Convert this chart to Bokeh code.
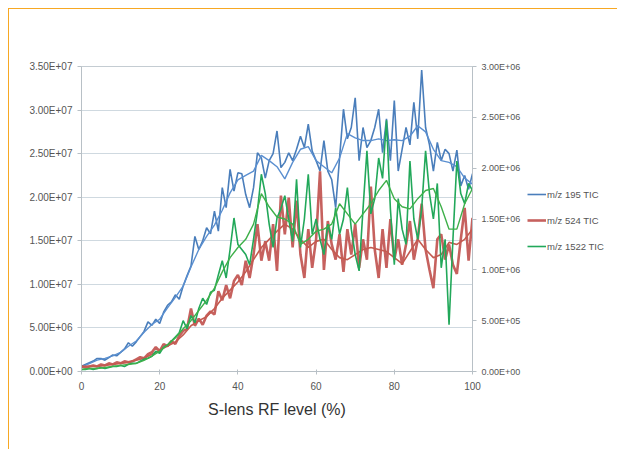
from bokeh.plotting import figure
from bokeh.layouts import row
from bokeh.models import Range1d, LinearAxis, FixedTicker, Legend, LegendItem
from bokeh.embed import file_html
from bokeh.resources import INLINE

# ---------------- data ----------------
rf_level = list(range(0, 101))          # S-lens RF level (%), 1% steps
rf_trend = list(range(0, 101, 2))       # trend line points

# m/z 195 TIC (left axis, units of 1e6)
mz195 = [0.6, 0.8, 1.0, 1.2, 1.5, 1.5, 1.3, 1.6, 1.9, 1.8,
         2.2, 2.6, 3.3, 2.9, 3.4, 4.0, 4.6, 5.7, 5.3, 6.0,
         5.5, 6.8, 7.6, 8.0, 8.8, 8.3, 9.8, 11.0, 12.1, 15.5,
         14.0, 15.0, 16.5, 15.8, 18.4, 16.1, 21.1, 18.8, 23.2, 20.7,
         22.8, 22.7, 20.3, 18.8, 21.1, 25.1, 24.5, 22.2, 24.2, 25.0,
         27.6, 23.4, 24.0, 25.1, 24.2, 25.5, 27.0, 25.7, 28.4, 25.3,
         24.2, 23.0, 26.5, 23.0, 22.0, 18.8, 24.5, 30.1, 26.7, 28.0,
         31.4, 24.2, 28.0, 25.7, 26.5, 28.0, 30.1, 25.1, 29.0, 24.2,
         31.1, 23.0, 25.5, 28.0, 26.0, 30.9, 26.7, 34.6, 28.0, 26.0,
         23.0, 26.3, 24.2, 25.5, 25.0, 23.0, 25.4, 21.3, 22.5, 20.9,
         22.7]
# m/z 524 TIC (right axis, units of 1e6)
mz524 = [0.05, 0.04, 0.05, 0.06, 0.05, 0.07, 0.06, 0.08, 0.07, 0.09,
         0.08, 0.10, 0.09, 0.10, 0.12, 0.14, 0.13, 0.17, 0.19, 0.24,
         0.20, 0.27, 0.25, 0.30, 0.27, 0.35, 0.40, 0.42, 0.62, 0.45,
         0.52, 0.46, 0.55, 0.59, 0.56, 0.79, 0.70, 0.85, 0.72, 0.89,
         0.95, 0.85, 1.09, 0.92, 1.15, 1.45, 1.09, 1.28, 1.09, 1.45,
         0.99, 1.73, 1.35, 1.71, 1.22, 1.68, 1.15, 0.92, 1.40, 1.02,
         1.30, 1.97, 1.00, 1.48, 1.25, 1.10, 1.35, 0.98, 1.40, 1.15,
         1.45, 1.02, 1.30, 1.10, 1.82, 1.20, 0.92, 1.40, 1.02, 1.50,
         1.10, 1.30, 1.05, 1.25, 1.48, 1.10, 1.30, 1.65, 1.20, 1.00,
         0.82, 1.30, 1.35, 1.10, 1.25, 1.05, 0.96, 1.30, 1.61, 1.09,
         1.51]
# m/z 1522 TIC (right axis, units of 1e6)
mz1522 = [0.02, 0.02, 0.03, 0.02, 0.03, 0.04, 0.03, 0.04, 0.05, 0.05,
          0.06, 0.05, 0.07, 0.08, 0.08, 0.10, 0.12, 0.13, 0.15, 0.20,
          0.18, 0.24, 0.26, 0.30, 0.34, 0.38, 0.50, 0.42, 0.55, 0.48,
          0.62, 0.72, 0.66, 0.78, 0.80, 0.95, 1.09, 0.92, 1.20, 1.51,
          1.25, 1.20, 1.15, 1.05, 1.30, 1.58, 1.94, 1.75, 1.45, 1.22,
          1.51, 1.60, 1.73, 1.50, 1.28, 1.89, 1.22, 1.50, 1.94, 1.35,
          1.50, 1.30, 1.15, 1.45, 1.30, 1.61, 1.35, 1.50, 1.81, 1.40,
          1.15, 0.99, 1.60, 2.17, 1.55, 1.70, 2.10, 1.90, 2.47, 1.60,
          1.05, 1.70, 1.40, 1.25, 2.07, 1.50, 1.30, 1.60, 2.17, 1.75,
          1.50, 1.85, 1.02, 1.30, 0.46, 1.30, 2.07, 1.75, 1.65, 1.85,
          1.78]

# trend lines (every 2%)
mz195_trend = [0.5, 0.9, 1.3, 1.5, 1.8, 2.2, 2.9, 3.5, 4.5, 5.4,
               6.0, 7.3, 8.5, 9.8, 12.0, 14.0, 15.5, 16.8, 18.5, 20.5,
               22.0, 22.5, 23.0, 24.8, 24.2, 23.5, 22.1, 24.0, 25.5, 25.8,
               24.2, 23.5, 22.8, 24.5, 27.3, 26.8, 26.5, 26.5, 26.7, 26.5,
               26.6, 26.5, 27.0, 28.2, 27.5, 25.5, 24.2, 24.0, 23.5, 22.2,
               21.5]
mz524_trend = [0.05, 0.05, 0.05, 0.06, 0.07, 0.08, 0.09, 0.11, 0.13, 0.17,
               0.21, 0.25, 0.29, 0.36, 0.45, 0.50, 0.54, 0.62, 0.72, 0.80,
               0.88, 0.98, 1.10, 1.22, 1.30, 1.38, 1.45, 1.40, 1.30, 1.22,
               1.28, 1.30, 1.20, 1.12, 1.10, 1.15, 1.20, 1.22, 1.20, 1.18,
               1.12, 1.06, 1.18, 1.30, 1.20, 1.12, 1.15, 1.27, 1.25, 1.30,
               1.40]
mz1522_trend = [0.02, 0.03, 0.03, 0.04, 0.05, 0.06, 0.07, 0.08, 0.11, 0.15,
                0.20, 0.26, 0.33, 0.42, 0.50, 0.60, 0.70, 0.82, 0.98, 1.12,
                1.22, 1.30, 1.45, 1.75, 1.62, 1.52, 1.50, 1.45, 1.25, 1.30,
                1.38, 1.40, 1.45, 1.65, 1.55, 1.45, 1.55, 1.65, 1.78, 1.88,
                1.70, 1.62, 1.60, 1.70, 1.78, 1.80, 1.62, 1.40, 1.40, 1.65,
                1.80]

x_ticks = [0, 20, 40, 60, 80, 100]
left_ticks = [0, 5, 10, 15, 20, 25, 30, 35]
left_labels = ["0.00E+00", "5.00E+06", "1.00E+07", "1.50E+07",
               "2.00E+07", "2.50E+07", "3.00E+07", "3.50E+07"]
right_ticks = [0, 0.5, 1.0, 1.5, 2.0, 2.5, 3.0]
right_labels = ["0.00E+00", "5.00E+05", "1.00E+06", "1.50E+06",
                "2.00E+06", "2.50E+06", "3.00E+06"]
series_names = ["m/z 195 TIC", "m/z 524 TIC", "m/z 1522 TIC"]
x_title = "S-lens RF level (%)"

# ---------------- styling ----------------
FONT = "Liberation Sans"
TICK_COLOR = "#555555"
AXIS_COLOR = "#b8c0c6"
BLUE = "#4a7ebb"
RED = "#c0504d"
GREEN = "#22a85a"
series_styles = [dict(line_color=BLUE, line_width=1.6),
                 dict(line_color=RED, line_width=2.6, line_alpha=0.9),
                 dict(line_color=GREEN, line_width=1.6)]
trend_styles = [dict(line_color="#5a8fd0", line_width=1.4),
                dict(line_color="#c45a50", line_width=1.6),
                dict(line_color="#3fb04a", line_width=1.4)]

# ---------------- main chart ----------------
p = figure(width=515, height=440, output_backend="svg", toolbar_location=None,
           x_range=Range1d(0, 100), y_range=Range1d(0, 35),
           min_border_left=72, min_border_right=52,
           min_border_top=57, min_border_bottom=78)
p.extra_y_ranges = {"right": Range1d(0, 3.0)}
p.background_fill_color = "white"
p.border_fill_color = "white"
p.outline_line_color = "#c4ccd2"

xa = p.xaxis[0]
xa.ticker = FixedTicker(ticks=x_ticks)
xa.axis_label = x_title
xa.axis_label_text_font = FONT
xa.axis_label_text_font_size = "16px"
xa.axis_label_text_font_style = "normal"
xa.axis_label_text_color = "#333333"
xa.axis_label_standoff = 8
xa.major_label_text_font = FONT
xa.major_label_text_font_size = "10px"
xa.major_label_text_color = TICK_COLOR
xa.major_label_standoff = 7
xa.axis_line_color = AXIS_COLOR
xa.major_tick_line_color = AXIS_COLOR
xa.major_tick_in = 2
xa.major_tick_out = 3
xa.minor_tick_line_color = None

ya = p.yaxis[0]
ya.ticker = FixedTicker(ticks=left_ticks)
ya.major_label_overrides = {t: l for t, l in zip(left_ticks, left_labels)}
ya.major_label_text_font = FONT
ya.major_label_text_font_size = "10px"
ya.major_label_text_color = TICK_COLOR
ya.major_label_standoff = 5
ya.axis_line_color = AXIS_COLOR
ya.major_tick_line_color = AXIS_COLOR
ya.major_tick_in = 0
ya.major_tick_out = 4
ya.minor_tick_line_color = None

ra = LinearAxis(y_range_name="right", ticker=FixedTicker(ticks=right_ticks))
ra.major_label_overrides = {t: l for t, l in zip(right_ticks, right_labels)}
ra.major_label_text_font = FONT
ra.major_label_text_font_size = "9px"
ra.major_label_text_color = TICK_COLOR
ra.major_label_standoff = 5
ra.axis_line_color = AXIS_COLOR
ra.major_tick_line_color = AXIS_COLOR
ra.major_tick_in = 0
ra.major_tick_out = 4
ra.minor_tick_line_color = None
p.add_layout(ra, "right")

p.xgrid.grid_line_color = None
p.ygrid.grid_line_color = "#cfd9e0"
p.ygrid.ticker = FixedTicker(ticks=left_ticks)

p.line(rf_level, mz195, **series_styles[0])
p.line(rf_trend, mz195_trend, **trend_styles[0])
p.line(rf_level, mz524, y_range_name="right", **series_styles[1])
p.line(rf_trend, mz524_trend, y_range_name="right", **trend_styles[1])
p.line(rf_level, mz1522, y_range_name="right", **series_styles[2])
p.line(rf_trend, mz1522_trend, y_range_name="right", **trend_styles[2])

# ---------------- legend panel (separate canvas so it is not clipped) ----------------
lg = figure(width=93, height=440, output_backend="svg", toolbar_location=None,
            x_range=Range1d(-300, -207), y_range=Range1d(0, 440),
            min_border=0, x_axis_type=None, y_axis_type=None)
lg.grid.grid_line_color = None
lg.outline_line_color = None
lg.background_fill_color = "white"
lg.border_fill_color = "white"
items = []
for name, ys, st in zip(series_names, [mz195, mz524, mz1522], series_styles):
    rr = lg.line(rf_level, ys, **st)
    items.append(LegendItem(label=name, renderers=[rr]))
legend = Legend(items=items, location=(3, 115))
legend.label_text_font = FONT
legend.label_text_font_size = "9.5px"
legend.label_text_color = TICK_COLOR
legend.label_standoff = 1
legend.glyph_width = 19
legend.glyph_height = 20
legend.label_height = 20
legend.spacing = 6
legend.padding = 0
legend.margin = 0
legend.border_line_color = None
legend.background_fill_alpha = 0
lg.add_layout(legend, "center")

layout = row(p, lg, spacing=0)
layout.styles = {"margin-left": "8px", "margin-top": "8px",
                 "border-left": "1px solid #f7a823", "border-top": "1px solid #f7a823"}

open("out.html", "w").write(file_html(layout, INLINE))
